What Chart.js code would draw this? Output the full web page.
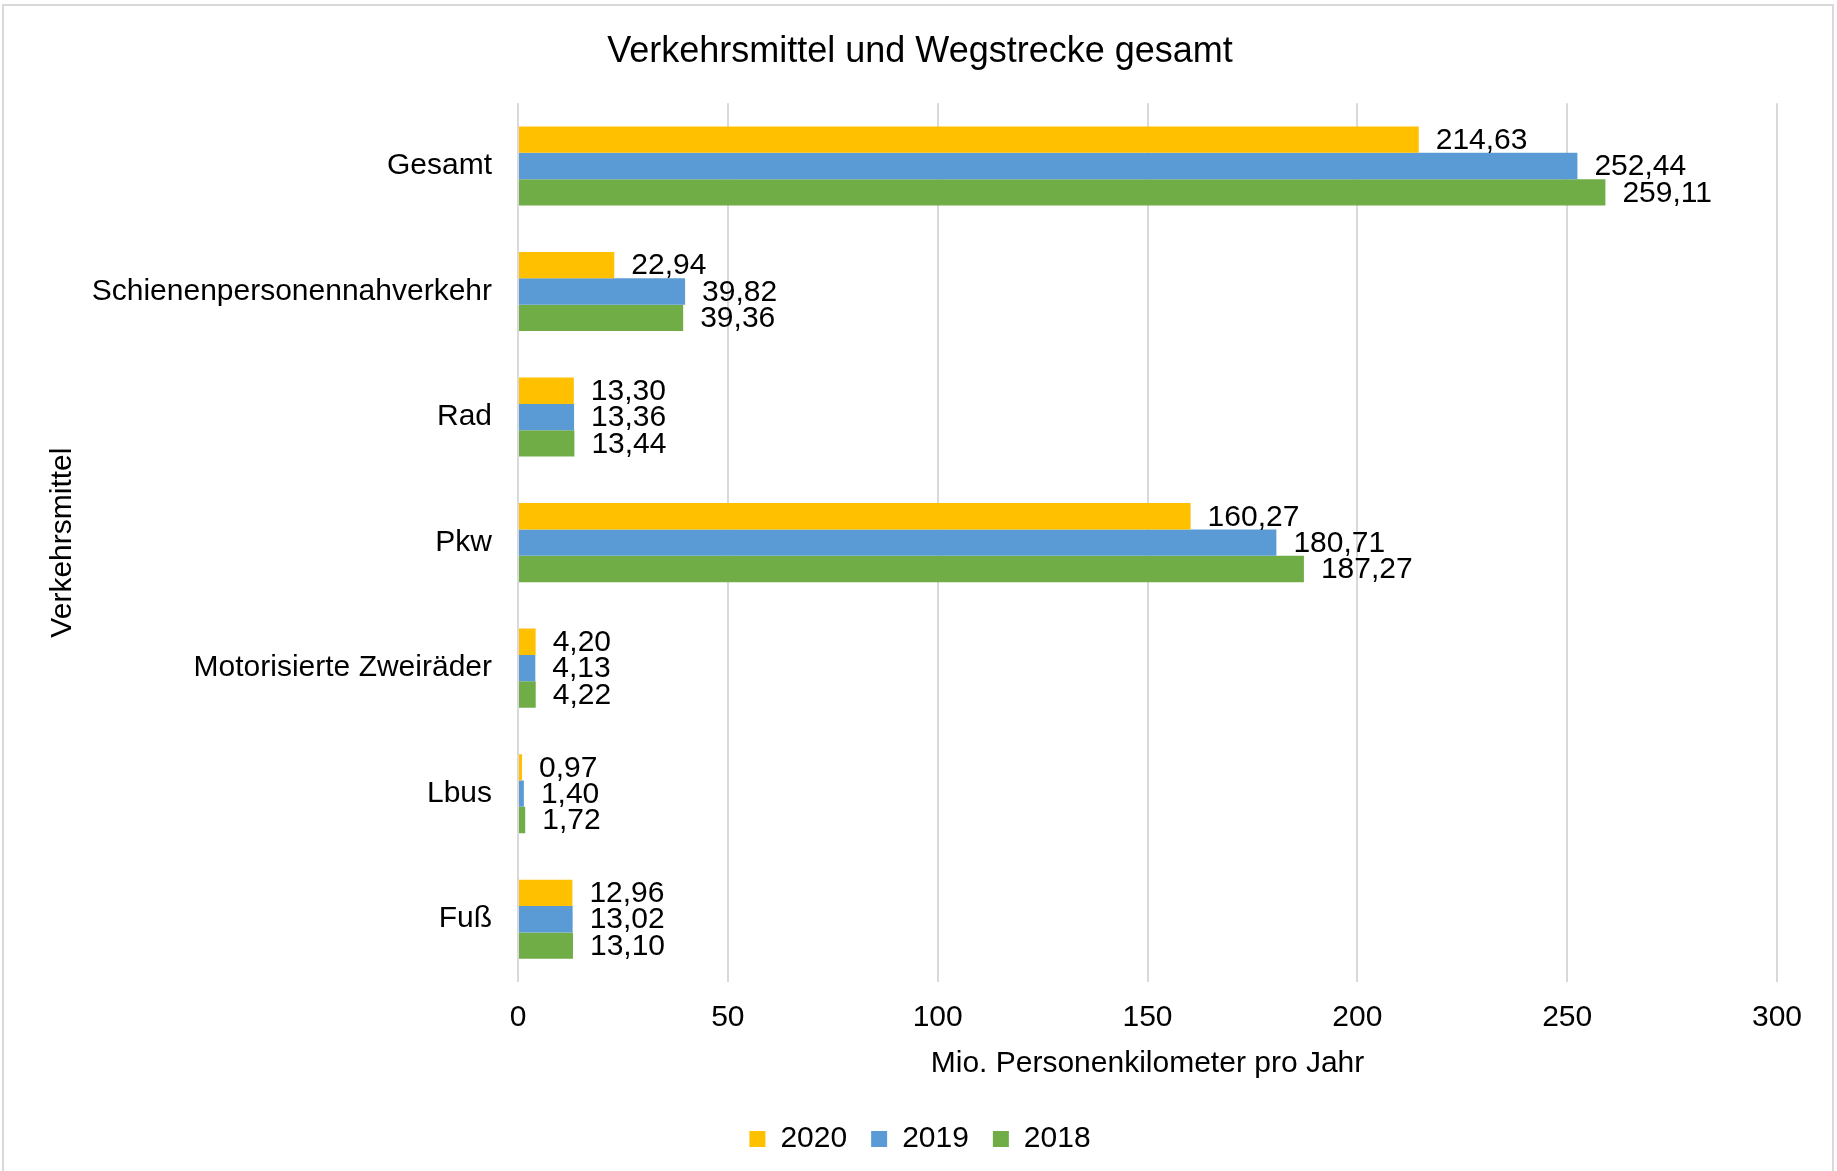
<!DOCTYPE html>
<html>
<head>
<meta charset="utf-8">
<script src="https://cdn.jsdelivr.net/npm/chart.js@4"></script>
<style>
  html, body { margin: 0; padding: 0; background: #fff; }
  #wrap { position: absolute; left: 0; top: 0; width: 1837px; height: 1171px; }
</style>
</head>
<body>
<div id="wrap"><canvas id="chart" width="1837" height="1171"></canvas></div>
<script>
// Verkehrsmittel und Wegstrecke gesamt (Mio. Personenkilometer pro Jahr)
const categories = ['Gesamt', 'Schienenpersonennahverkehr', 'Rad', 'Pkw', 'Motorisierte Zweiräder', 'Lbus', 'Fuß'];
const values2020 = [214.63, 22.94, 13.30, 160.27, 4.20, 0.97, 12.96];
const values2019 = [252.44, 39.82, 13.36, 180.71, 4.13, 1.40, 13.02];
const values2018 = [259.11, 39.36, 13.44, 187.27, 4.22, 1.72, 13.10];
const xTicks = [0, 50, 100, 150, 200, 250, 300];

const FONT = "'Liberation Sans', Arial, sans-serif";
const gridColor = '#D9D9D9';

// outer frame + white background
const framePlugin = {
    id: 'frame',
    beforeDraw(chart) {
        const ctx = chart.ctx;
        ctx.save();
        ctx.fillStyle = '#fff';
        ctx.fillRect(0, 0, chart.width, chart.height);
        ctx.strokeStyle = gridColor;
        ctx.lineWidth = 2;
        ctx.strokeRect(3, 5, 1830, 1200);
        ctx.restore();
    }
};

// value labels right of each bar, German decimal comma
const valueLabels = {
    id: 'valueLabels',
    afterDatasetsDraw(chart) {
        const ctx = chart.ctx;
        ctx.save();
        ctx.font = '30px ' + FONT;
        ctx.fillStyle = '#000';
        ctx.textAlign = 'left';
        ctx.textBaseline = 'middle';
        chart.data.datasets.forEach((ds, i) => {
            const meta = chart.getDatasetMeta(i);
            meta.data.forEach((bar, j) => {
                const txt = ds.data[j].toFixed(2).replace('.', ',');
                ctx.fillText(txt, bar.x + 17, bar.y + 1);
            });
        });
        ctx.restore();
    }
};

new Chart(document.getElementById('chart').getContext('2d'), {
    type: 'bar',
    data: {
        labels: categories,
        datasets: [
            { label: '2020', data: values2020, backgroundColor: '#FFC000' },
            { label: '2019', data: values2019, backgroundColor: '#5B9BD5' },
            { label: '2018', data: values2018, backgroundColor: '#70AD47' }
        ]
    },
    options: {
        indexAxis: 'y',
        responsive: false,
        animation: false,
        devicePixelRatio: 1,
        layout: { padding: { top: 0, left: 3, right: 0, bottom: 7 } },
        datasets: {
            bar: { barPercentage: 1, categoryPercentage: 0.63, borderWidth: 0 }
        },
        plugins: {
            title: {
                display: true,
                text: 'Verkehrsmittel und Wegstrecke gesamt',
                color: '#000',
                font: { family: FONT, size: 36, weight: 'normal', lineHeight: 1.2 },
                padding: { top: 30, bottom: 30 }
            },
            legend: {
                position: 'bottom',
                labels: {
                    color: '#000',
                    font: { family: FONT, size: 30 },
                    boxWidth: 16,
                    boxHeight: 16,
                    padding: 24
                }
            },
            tooltip: { enabled: false }
        },
        scales: {
            x: {
                min: 0,
                max: 300,
                afterBuildTicks: (scale) => { scale.ticks = xTicks.map(v => ({ value: v })); },
                afterFit: (scale) => { scale.height = 118; },
                grid: { color: gridColor, lineWidth: 2, drawTicks: false },
                border: { display: false },
                ticks: {
                    color: '#000',
                    font: { family: FONT, size: 30 },
                    padding: 18
                },
                title: {
                    display: true,
                    text: 'Mio. Personenkilometer pro Jahr',
                    color: '#000',
                    font: { family: FONT, size: 30 },
                    padding: { top: 0, bottom: 18 }
                }
            },
            y: {
                afterFit: (scale) => { scale.width = 515; },
                grid: { display: false, drawTicks: false },
                border: { display: false },
                ticks: {
                    color: '#000',
                    font: { family: FONT, size: 30 },
                    padding: 26
                },
                title: {
                    display: true,
                    text: 'Verkehrsmittel',
                    color: '#000',
                    font: { family: FONT, size: 30 },
                    padding: { top: 42, bottom: 0 }
                }
            },
            // empty spacer on the right so the plot ends at 300 where the reference does
            spacer: {
                type: 'linear',
                axis: 'y',
                position: 'right',
                afterFit: (scale) => { scale.width = 60; },
                grid: { display: false, drawTicks: false },
                border: { display: false },
                ticks: { display: false }
            }
        }
    },
    plugins: [framePlugin, valueLabels]
});
</script>
</body>
</html>
